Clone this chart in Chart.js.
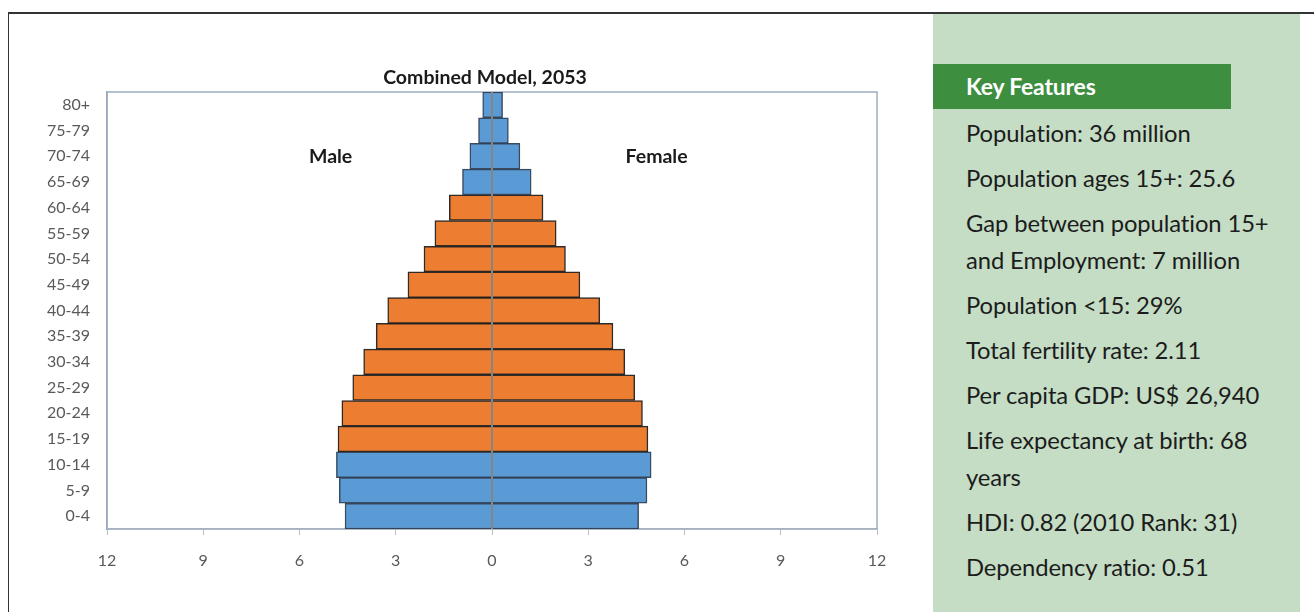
<!DOCTYPE html>
<html>
<head>
<meta charset="utf-8">
<script src="https://cdn.jsdelivr.net/npm/chart.js@4.4.1/dist/chart.umd.min.js"></script>
<style>
  html, body { margin: 0; padding: 0; background: #ffffff; }
  body { width: 1314px; height: 612px; position: relative; overflow: hidden; }
  #frameTop { position: absolute; left: 8px; top: 12px; width: 1306px; height: 2px; background: #333; z-index: 3; }
  #frameLeft { position: absolute; left: 8px; top: 12px; width: 1px; height: 600px; background: #333; z-index: 3; }
  #chartWrap { position: absolute; left: 0; top: 0; width: 970px; height: 612px; z-index: 1; }
  #panel { position: absolute; left: 933px; top: 14px; width: 367px; height: 598px; background: #c5ddc5; z-index: 2;
           font-family: Lato, "Open Sans", sans-serif; color: #1c1c1c; }
  #panelHead { position: absolute; left: 0; top: 50px; width: 298px; height: 45px; background: #3e8e3f; color: #fff;
               font-weight: bold; font-size: 23px; line-height: 45px; padding-left: 33px; box-sizing: border-box; letter-spacing: -0.2px; }
  #panelList { position: absolute; left: 33px; top: 101px; font-size: 23.8px; line-height: 37px; letter-spacing: -0.1px; }
  #panelList div { margin-bottom: 8px; white-space: nowrap; }
</style>
</head>
<body>
<div id="frameTop"></div>
<div id="frameLeft"></div>
<div id="chartWrap"><canvas id="c" width="970" height="612"></canvas></div>
<div id="panel">
  <div id="panelHead">Key Features</div>
  <div id="panelList">
    <div>Population: 36 million</div>
    <div>Population ages 15+: 25.6</div>
    <div>Gap between population 15+<br>and Employment: 7 million</div>
    <div>Population &lt;15: 29%</div>
    <div>Total fertility rate: 2.11</div>
    <div>Per capita GDP: US$ 26,940</div>
    <div>Life expectancy at birth: 68<br>years</div>
    <div>HDI: 0.82 (2010 Rank: 31)</div>
    <div>Dependency ratio: 0.51</div>
  </div>
</div>
<script>
// ---- data (millions) ----
const ageGroups = ['0-4','5-9','10-14','15-19','20-24','25-29','30-34','35-39','40-44','45-49','50-54','55-59','60-64','65-69','70-74','75-79','80+'];
const maleValues   = [4.58, 4.76, 4.85, 4.80, 4.68, 4.34, 4.00, 3.61, 3.25, 2.62, 2.12, 1.78, 1.33, 0.92, 0.69, 0.42, 0.29];
const femaleValues = [4.57, 4.83, 4.96, 4.86, 4.69, 4.45, 4.14, 3.77, 3.36, 2.74, 2.29, 2.00, 1.59, 1.22, 0.87, 0.51, 0.33];
const xTickValues = [-12, -9, -6, -3, 0, 3, 6, 9, 12];
const chartTitle = 'Combined Model, 2053';
const sideLabels = ['Male', 'Female'];
const workingAgeGroups = ['15-19','20-24','25-29','30-34','35-39','40-44','45-49','50-54','55-59','60-64'];

// ---- styles ----
const BLUE = '#5b9bd5', ORANGE = '#ed7d31';
const barColors = ageGroups.map(g => workingAgeGroups.includes(g) ? ORANGE : BLUE);
const borderColors = ageGroups.map(g => workingAgeGroups.includes(g) ? 'rgba(25,20,15,0.9)' : 'rgba(35,55,80,0.9)');
const FONT = 'Lato, "Open Sans", sans-serif';

const overlay = {
  id: 'overlay',
  beforeDatasetsDraw(chart) {
    const {ctx, chartArea: a} = chart;
    ctx.save();
    ctx.strokeStyle = '#9fadc0';
    ctx.lineWidth = 1.5;
    ctx.strokeRect(a.left, a.top, a.right - a.left, a.bottom - a.top);
    // chart title, centred slightly left of the plot centre as in the source
    ctx.fillStyle = '#1a1a1a';
    ctx.font = 'bold 19.5px ' + FONT;
    ctx.textAlign = 'center';
    ctx.textBaseline = 'middle';
    ctx.fillText(chartTitle, (a.left + a.right) / 2 - 7, a.top - 14);
    ctx.restore();
  },
  afterDatasetsDraw(chart) {
    const {ctx, chartArea: a, scales} = chart;
    const x0 = scales.x.getPixelForValue(0);
    ctx.save();
    ctx.strokeStyle = '#858585';
    ctx.lineWidth = 2;
    ctx.beginPath();
    ctx.moveTo(x0, a.top);
    ctx.lineTo(x0, a.bottom);
    ctx.stroke();
    // Male / Female labels
    ctx.fillStyle = '#1a1a1a';
    ctx.font = 'bold 19.5px ' + FONT;
    ctx.textAlign = 'center';
    ctx.textBaseline = 'middle';
    const yl = scales.y.getPixelForValue(ageGroups.indexOf('70-74'));
    ctx.fillText(sideLabels[0], scales.x.getPixelForValue(-5.03), yl);
    ctx.fillText(sideLabels[1], scales.x.getPixelForValue(5.13), yl);
    ctx.restore();
  }
};

new Chart(document.getElementById('c'), {
  type: 'bar',
  data: {
    labels: ageGroups,
    datasets: [
      { label: sideLabels[0], data: maleValues.map(v => -v), backgroundColor: barColors, borderColor: borderColors, borderWidth: 1.5 },
      { label: sideLabels[1], data: femaleValues, backgroundColor: barColors, borderColor: borderColors, borderWidth: 1.5 }
    ]
  },
  options: {
    indexAxis: 'y',
    responsive: false,
    devicePixelRatio: 1,
    animation: false,
    layout: { padding: { left: 0, right: 93, top: 92, bottom: 0 } },
    datasets: { bar: { barPercentage: 1, categoryPercentage: 1 } },
    plugins: {
      legend: { display: false },
      tooltip: { enabled: false },
      title: { display: false }
    },
    scales: {
      x: {
        stacked: true,
        min: -12, max: 12,
        afterBuildTicks(s) { s.ticks = xTickValues.map(v => ({ value: v })); },
        afterFit(s) { s.height = 83; },
        grid: { drawOnChartArea: false, drawTicks: true, tickLength: 6, color: '#bfbfbf' },
        border: { display: true, color: '#bfbfbf', width: 1.5 },
        ticks: {
          color: '#595959', font: { family: FONT, size: 16 }, padding: 16,
          callback: v => String(Math.abs(v))
        }
      },
      y: {
        stacked: true,
        reverse: true,
        afterFit(s) { s.width = 107; },
        grid: { display: false },
        border: { display: true, color: '#8e9fb6', width: 1.5 },
        ticks: { color: '#595959', font: { family: FONT, size: 16 }, padding: 9, autoSkip: false }
      }
    }
  },
  plugins: [overlay]
});
</script>
</body>
</html>
